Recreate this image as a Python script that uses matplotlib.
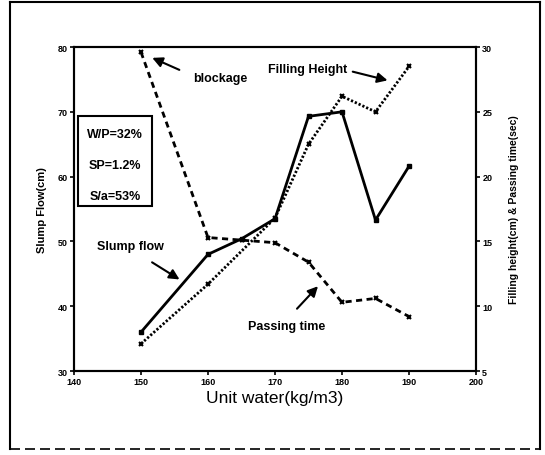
import matplotlib
matplotlib.use("Agg")
import matplotlib.pyplot as plt
from matplotlib.patches import Rectangle

plt.rcParams['font.family'] = ['Liberation Sans', 'DejaVu Sans']

# unit water (kg/m3)
slump_x = [150, 160, 165, 170, 175, 180, 185, 190]
slump_flow = [36, 48, 50.4, 53.5, 69.3, 70, 53.3, 61.6]

fill_x = [150, 160, 170, 175, 180, 185, 190]
fill_height = [7.1, 11.7, 16.8, 22.5, 26.2, 25.0, 28.5]

pass_x = [150, 160, 165, 170, 175, 180, 185, 190]
pass_time = [29.6, 15.3, 15.1, 14.9, 13.4, 10.3, 10.6, 9.2]

mix_info = ["W/P=32%", "SP=1.2%", "S/a=53%"]

fig = plt.figure(figsize=(5.45, 4.56), dpi=100)
ax = fig.add_axes([0.1358, 0.1842, 0.7376, 0.7105])
ax2 = ax.twinx()

ax.plot(slump_x, slump_flow, color='black', lw=2, marker='s', ms=3.5)
ax2.plot(fill_x, fill_height, color='black', lw=2, ls=(0, (0.8, 0.7)), marker='x', ms=3.5, mew=1.5)
ax2.plot(pass_x, pass_time, color='black', lw=2, ls=(0, (2.2, 1.6)), marker='x', ms=3.5, mew=1.5)

ax.set_xlim(140, 200)
ax.set_ylim(30, 80)
ax2.set_ylim(5, 30)
ax.set_xticks(range(140, 201, 10))
ax.set_yticks(range(30, 81, 10))
ax2.set_yticks(range(5, 31, 5))

for a in (ax, ax2):
    a.tick_params(labelsize=6.5, width=1.2, length=3, pad=1.5)
    for lab in a.get_xticklabels() + a.get_yticklabels():
        lab.set_fontweight('bold')
    for sp in a.spines.values():
        sp.set_linewidth(1.5)

ax.set_xlabel("Unit water(kg/m3)", fontsize=12.5, labelpad=3)
ax.set_ylabel("Slump Flow(cm)", fontsize=8, fontweight='bold', labelpad=8)
ax2.set_ylabel("Filling height(cm) & Passing time(sec)", fontsize=7.5, fontweight='bold',
               rotation=90, labelpad=12)

arrow = dict(arrowstyle='-|>', color='black', lw=1.5, mutation_scale=15)
ax.annotate("", xy=(151.3, 78.5), xytext=(156.1, 76.3), arrowprops=arrow)
ax.text(161.8, 75.2, "blockage", fontsize=9, fontweight='bold', ha='center', va='center')
ax.annotate("", xy=(187.2, 74.75), xytext=(181.2, 76.3), arrowprops=arrow)
ax.text(174.9, 76.6, "Filling Height", fontsize=9, fontweight='bold', ha='center', va='center')
ax.annotate("", xy=(156.1, 43.9), xytext=(151.3, 47), arrowprops=arrow)
ax.text(148.4, 49.3, "Slump flow", fontsize=9, fontweight='bold', ha='center', va='center')
ax.annotate("", xy=(176.7, 43.4), xytext=(173, 39.3), arrowprops=arrow)
ax.text(171.8, 36.9, "Passing time", fontsize=9, fontweight='bold', ha='center', va='center')

ax.add_patch(Rectangle((140.6, 55.5), 11.0, 13.85, fill=False, lw=1.5, ec='black'))
for txt, yy in zip(mix_info, [66.6, 61.8, 57.0]):
    ax.text(146.1, yy, txt, fontsize=9, fontweight='bold', ha='center', va='center')

# outer frame of the scanned figure
frame = [((0.018, 0.0132), (0.018, 0.9934)), ((0.018, 0.9934), (0.991, 0.9934)),
         ((0.991, 0.9934), (0.991, 0.0132))]
for (x0, y0), (x1, y1) in frame:
    fig.add_artist(plt.Line2D([x0, x1], [y0, y1], color='black', lw=1.5))
fig.add_artist(plt.Line2D([0.018, 0.991], [0.0132, 0.0132], color='black', lw=1.2, ls=(0, (6, 3))))

fig.savefig("out.png", dpi=100)
